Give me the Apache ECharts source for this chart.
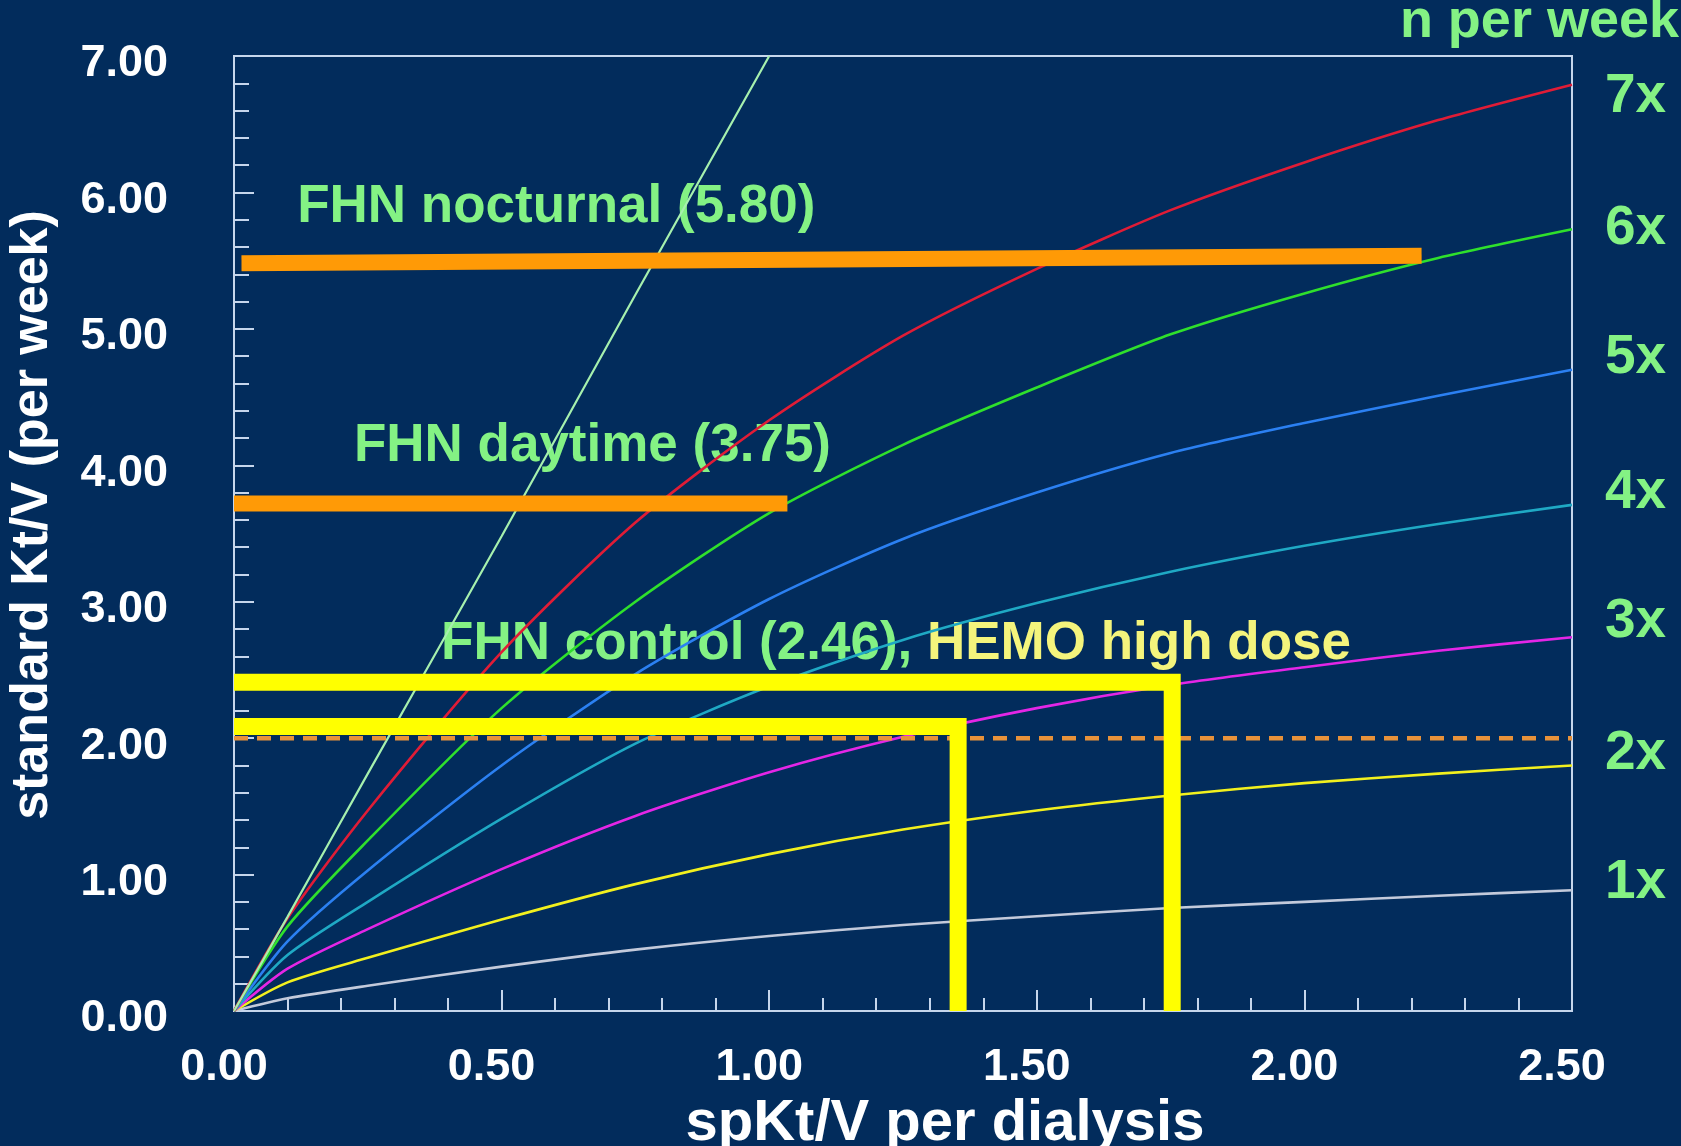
<!DOCTYPE html>
<html>
<head>
<meta charset="utf-8">
<script src="https://cdn.jsdelivr.net/npm/echarts@6/dist/echarts.min.js"></script>
<style>
html,body{margin:0;padding:0;background:#022c5c;}
#chart{width:1681px;height:1146px;}
</style>
</head>
<body>
<div id="chart"></div>
<script>
// spKt/V per dialysis sample points
const spKtV = [0, 0.1, 0.25, 0.5, 0.75, 1.0, 1.25, 1.5, 1.75, 2.0, 2.25, 2.5];
// standard Kt/V per week for n sessions per week
const perWeek1 = [0, 0.093, 0.185, 0.325, 0.45, 0.55, 0.63, 0.695, 0.755, 0.80, 0.845, 0.885];
const perWeek2 = [0, 0.21, 0.39, 0.67, 0.93, 1.15, 1.33, 1.47, 1.58, 1.67, 1.74, 1.80];
const perWeek3 = [0, 0.31, 0.60, 1.04, 1.43, 1.75, 2.01, 2.22, 2.39, 2.52, 2.64, 2.74];
const perWeek4 = [0, 0.41, 0.80, 1.41, 1.96, 2.38, 2.72, 2.99, 3.22, 3.41, 3.57, 3.71];
const perWeek5 = [0, 0.51, 1.03, 1.80, 2.47, 3.02, 3.46, 3.80, 4.09, 4.31, 4.51, 4.70];
const perWeek6 = [0, 0.62, 1.25, 2.22, 3.00, 3.65, 4.15, 4.57, 4.96, 5.26, 5.52, 5.73];
const perWeek7 = [0, 0.68, 1.47, 2.63, 3.58, 4.33, 4.95, 5.44, 5.87, 6.22, 6.53, 6.79];
const nLabels = ['1x', '2x', '3x', '4x', '5x', '6x', '7x'];
// steep (continuous) line
const steepX = [0, 0.1, 0.25, 0.5, 0.75, 1.0];
const steepY = [0, 0.69, 1.74, 3.48, 5.25, 7.0];
// annotation bars
const nocturnalX = [0.014, 2.219];
const nocturnalY = [5.48, 5.535];
const daytimeX = [0, 1.034];
const daytimeY = [3.72, 3.72];
const upperLX = [0, 1.753, 1.753];
const upperLY = [2.41, 2.41, 0];
const lowerLX = [0, 1.353, 1.353];
const lowerLY = [2.085, 2.085, 0];
const thresholdX = [0, 2.5];
const thresholdY = [2.0, 2.0];
// annotation texts and anchors (data coords)
const annotText = ['FHN nocturnal (5.80)', 'FHN daytime (3.75)', '{g|FHN control (2.46), }{y|HEMO high dose}'];
const annotX = [0.118, 0.224, 0.387];
const annotY = [5.89, 4.14, 2.69];
// axis ticks
const xTicks = [0, 0.5, 1.0, 1.5, 2.0, 2.5];
const yTicks = [0, 1, 2, 3, 4, 5, 6, 7];

const zip = (xs, ys) => xs.map((x, i) => [x, ys[i]]);

const FONT = '"Liberation Sans", Arial, Helvetica, sans-serif';
const GREEN_TXT = '#84f284';
const YELLOW_TXT = '#f4f47c';
const AXIS_C = '#c6d6ec';
const ANN_SIZE = 53;

const curveColors = ['#c3cadb', '#f2f01e', '#e426e6', '#1fa9c4', '#2b80f2', '#2fe02c', '#e01c36'];
const curveSets = [perWeek1, perWeek2, perWeek3, perWeek4, perWeek5, perWeek6, perWeek7];
const labelDy = [-7, -12, -15, -12, -12, 0, 12];

const series = [];

// annotation texts (under curves)
annotText.forEach((t, i) => {
  series.push({
    type: 'scatter', z: 1, silent: true, symbolSize: 0,
    itemStyle: {opacity: 1},
    data: [[annotX[i], annotY[i]]],
    label: {
      show: true, position: [0, 0], align: 'left', verticalAlign: 'middle', opacity: 1,
      formatter: t, color: GREEN_TXT, fontSize: ANN_SIZE, fontWeight: 'bold', fontFamily: FONT,
      rich: {
        g: {color: GREEN_TXT, fontSize: ANN_SIZE, fontWeight: 'bold', fontFamily: FONT},
        y: {color: YELLOW_TXT, fontSize: ANN_SIZE, fontWeight: 'bold', fontFamily: FONT}
      }
    }
  });
});

curveSets.forEach((ys, i) => {
  series.push({
    type: 'line', z: 3, silent: true, symbol: 'none', smooth: 0.25,
    data: zip(spKtV, ys),
    lineStyle: {color: curveColors[i], width: 2.6},
    endLabel: {
      show: true, formatter: nLabels[i], distance: 0, offset: [33, labelDy[i]],
      color: GREEN_TXT, fontSize: 55, fontWeight: 'bold', fontFamily: FONT,
      align: 'left', verticalAlign: 'middle'
    }
  });
});

series.push({
  type: 'line', z: 3, silent: true, symbol: 'none', smooth: 0.2,
  data: zip(steepX, steepY),
  lineStyle: {color: '#a6f0ae', width: 2.2}
});

series.push({
  type: 'line', z: 4, silent: true, symbol: 'none',
  data: zip(thresholdX, thresholdY),
  lineStyle: {color: '#e8923a', width: 4.5, type: [14, 9]}
});

[[nocturnalX, nocturnalY], [daytimeX, daytimeY]].forEach(([xs, ys]) => {
  series.push({
    type: 'line', z: 5, silent: true, symbol: 'none',
    data: zip(xs, ys),
    lineStyle: {color: '#ff9a06', width: 16, cap: 'butt'}
  });
});
[[upperLX, upperLY], [lowerLX, lowerLY]].forEach(([xs, ys]) => {
  series.push({
    type: 'line', z: 5, silent: true, symbol: 'none',
    data: zip(xs, ys),
    lineStyle: {color: '#ffff00', width: 17, cap: 'butt', join: 'miter'}
  });
});

const chart = echarts.init(document.getElementById('chart'), null, {renderer: 'canvas'});
chart.setOption({
  animation: false,
  backgroundColor: '#022c5c',
  title: {
    text: 'n per week', right: -3, top: -10,
    textStyle: {color: GREEN_TXT, fontSize: 54, fontWeight: 'bold', fontFamily: FONT}
  },
  grid: {
    left: 234, right: 109, top: 56, bottom: 135,
    outerBoundsMode: 'none', containLabel: false,
    show: true, borderColor: AXIS_C, borderWidth: 2, backgroundColor: 'transparent'
  },
  xAxis: {
    type: 'value', min: xTicks[0], max: xTicks[xTicks.length - 1], interval: 0.5,
    name: 'spKt/V per dialysis', nameLocation: 'middle', nameGap: 62,
    nameTextStyle: {color: '#ffffff', fontSize: 58, fontWeight: 'bold', fontFamily: FONT, padding: [0, 0, 0, 84]},
    axisLine: {show: true, lineStyle: {color: AXIS_C, width: 2}},
    axisTick: {show: true, inside: true, length: 21, lineStyle: {color: AXIS_C, width: 2}},
    minorTick: {show: true, splitNumber: 5, length: 13, lineStyle: {color: AXIS_C, width: 2}},
    splitLine: {show: false},
    axisLabel: {
      color: '#ffffff', fontSize: 45, fontWeight: 'bold', fontFamily: FONT, margin: 34,
      padding: [0, 20, 0, 0], formatter: v => v.toFixed(2)
    }
  },
  yAxis: {
    type: 'value', min: yTicks[0], max: yTicks[yTicks.length - 1], interval: 1,
    name: 'standard Kt/V (per week)', nameLocation: 'middle', nameGap: 175,
    nameTextStyle: {color: '#ffffff', fontSize: 52, fontWeight: 'bold', fontFamily: FONT, padding: [0, 0, 0, 37]},
    axisLine: {show: true, lineStyle: {color: AXIS_C, width: 2}},
    axisTick: {show: true, inside: true, length: 20, lineStyle: {color: AXIS_C, width: 2}},
    minorTick: {show: true, splitNumber: 5, length: 15, lineStyle: {color: AXIS_C, width: 2}},
    splitLine: {show: false},
    axisLabel: {
      margin: 66,
      formatter: v => '{t|' + v.toFixed(2) + '}',
      rich: {
        t: {color: '#ffffff', fontSize: 45, fontWeight: 'bold', fontFamily: FONT, padding: [16, 0, 0, 0]}
      }
    }
  },
  series: series
});
</script>
</body>
</html>
